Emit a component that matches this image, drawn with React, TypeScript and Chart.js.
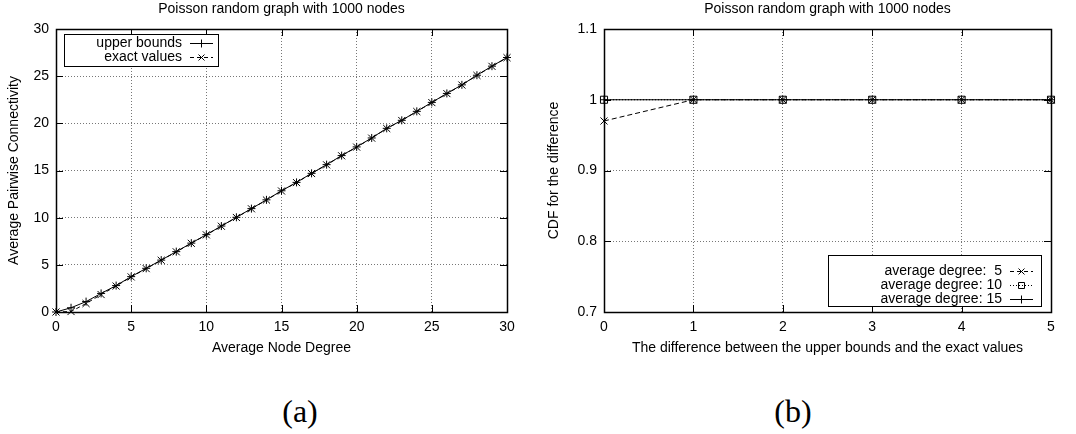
import React, { useEffect, useRef } from 'react';
import { Chart, registerables } from 'chart.js';

Chart.register(...registerables);

const FONT = "'Liberation Sans', Arial, Helvetica, sans-serif";
const SERIF = "'Liberation Serif', 'Times New Roman', serif";

// ---------- Panel (a) data ----------
const nodeDegrees = [0, 1, 2, 3, 4, 5, 6, 7, 8, 9, 10, 11, 12, 13, 14, 15, 16, 17, 18, 19, 20, 21, 22, 23, 24, 25, 26, 27, 28, 29, 30];
const upperBounds = [0, 0.45, 1.1, 1.97, 2.8, 3.75, 4.63, 5.5, 6.4, 7.3, 8.2, 9.11, 10.04, 10.96, 11.89, 12.85, 13.74, 14.7, 15.62, 16.58, 17.5, 18.45, 19.47, 20.32, 21.27, 22.22, 23.17, 24.08, 25.1, 26.06, 26.98];
const exactValues = [0, 0.05, 0.9, 1.85, 2.75, 3.72, 4.6, 5.48, 6.38, 7.28, 8.18, 9.09, 10.02, 10.94, 11.87, 12.83, 13.72, 14.68, 15.6, 16.56, 17.48, 18.43, 19.45, 20.3, 21.25, 22.2, 23.15, 24.06, 25.08, 26.04, 26.96];
const degreeTicks = [0, 5, 10, 15, 20, 25, 30];
const connectivityTicks = [0, 5, 10, 15, 20, 25, 30];

// ---------- Panel (b) data ----------
const differences = [0, 1, 2, 3, 4, 5];
const cdfDegree5 = [0.97, 1, 1, 1, 1, 1];
const cdfDegree10 = [1, 1, 1, 1, 1, 1];
const cdfDegree15 = [1, 1, 1, 1, 1, 1];
const differenceTicks = [0, 1, 2, 3, 4, 5];
const cdfTicks = [0.7, 0.8, 0.9, 1.0, 1.1];
const cdfTickLabels = ['0.7', '0.8', '0.9', '1', '1.1'];

const chartTitle = 'Poisson random graph with 1000 nodes';

function drawMarker(ctx: CanvasRenderingContext2D, style: string, x: number, y: number, r: number) {
  ctx.save();
  ctx.setLineDash([]);
  ctx.strokeStyle = '#000';
  ctx.lineWidth = 1;
  ctx.beginPath();
  if (style === 'cross') {
    ctx.moveTo(x - r, y); ctx.lineTo(x + r, y);
    ctx.moveTo(x, y - r); ctx.lineTo(x, y + r);
  } else if (style === 'crossRot') {
    ctx.moveTo(x - r, y - r); ctx.lineTo(x + r, y + r);
    ctx.moveTo(x - r, y + r); ctx.lineTo(x + r, y - r);
  } else if (style === 'rect') {
    ctx.rect(x - r, y - r, 2 * r, 2 * r);
  }
  ctx.stroke();
  ctx.restore();
}

const gnuplotPlugin = {
  id: 'gnuplot',
  beforeDatasetsDraw(chart: any, _args: any, opts: any) {
    const { ctx, chartArea } = chart;
    const { left, right, top, bottom } = chartArea;
    const xs = chart.scales.x;
    const ys = chart.scales.y;
    const tl = 7;
    ctx.save();
    ctx.strokeStyle = '#000';
    ctx.lineWidth = 1;
    ctx.setLineDash([]);
    ctx.beginPath();
    xs.ticks.forEach((t: any) => {
      const px = Math.round(xs.getPixelForValue(t.value)) + 0.5;
      ctx.moveTo(px, bottom); ctx.lineTo(px, bottom - tl);
      ctx.moveTo(px, top); ctx.lineTo(px, top + tl);
    });
    ys.ticks.forEach((t: any) => {
      const py = Math.round(ys.getPixelForValue(t.value)) + 0.5;
      ctx.moveTo(left, py); ctx.lineTo(left + tl, py);
      ctx.moveTo(right, py); ctx.lineTo(right - tl, py);
    });
    ctx.stroke();
    ctx.lineWidth = 1.5;
    ctx.strokeRect(Math.round(left) + 0.5, Math.round(top) + 0.5, Math.round(right - left), Math.round(bottom - top));
    ctx.restore();
  },
  afterDraw(chart: any, _args: any, opts: any) {
    const { ctx, chartArea } = chart;
    ctx.save();
    ctx.fillStyle = '#000';
    ctx.font = `14px ${FONT}`;
    ctx.textAlign = 'center';
    ctx.textBaseline = 'middle';
    ctx.fillText(opts.title, (chartArea.left + chartArea.right) / 2, opts.titleY);

    const lg = opts.legend;
    ctx.fillStyle = '#fff';
    ctx.fillRect(lg.box[0], lg.box[1], lg.box[2] - lg.box[0], lg.box[3] - lg.box[1]);
    ctx.strokeStyle = '#000';
    ctx.lineWidth = 1;
    ctx.setLineDash([]);
    ctx.strokeRect(lg.box[0] + 0.5, lg.box[1] + 0.5, lg.box[2] - lg.box[0], lg.box[3] - lg.box[1]);
    lg.entries.forEach((e: any, i: number) => {
      const y = lg.rows[i];
      ctx.fillStyle = '#000';
      ctx.textAlign = 'right';
      ctx.textBaseline = 'middle';
      ctx.font = `14px ${FONT}`;
      ctx.fillText(e.label, lg.textRight, y);
      ctx.save();
      ctx.beginPath();
      ctx.setLineDash(e.dash);
      ctx.strokeStyle = '#000';
      ctx.lineWidth = 1;
      ctx.moveTo(lg.sample[0], Math.round(y) + 0.5);
      ctx.lineTo(lg.sample[1], Math.round(y) + 0.5);
      ctx.stroke();
      ctx.restore();
      drawMarker(ctx, e.marker, (lg.sample[0] + lg.sample[1]) / 2, Math.round(y) + 0.5, e.r);
    });
    ctx.restore();
  },
};

const tickFont = { size: 14, family: FONT };

function xAxis(min: number, max: number, ticks: number[], title: string) {
  return {
    type: 'linear',
    min,
    max,
    afterBuildTicks: (s: any) => { s.ticks = ticks.map((v) => ({ value: v })); },
    afterFit: (s: any) => { s.height = 49; },
    grid: { color: '#777', lineWidth: 1, drawTicks: false },
    border: { display: false, dash: [1, 2] },
    ticks: { padding: 7, color: '#000', font: tickFont, maxRotation: 0, autoSkip: false },
    title: { display: true, text: title, color: '#000', font: tickFont, padding: { top: 4, bottom: 4 } },
  };
}

function yAxis(min: number, max: number, ticks: number[], labels: string[], title: string, width: number) {
  return {
    type: 'linear',
    min,
    max,
    afterBuildTicks: (s: any) => { s.ticks = ticks.map((v) => ({ value: v })); },
    afterFit: (s: any) => { s.width = width; },
    grid: { color: '#777', lineWidth: 1, drawTicks: false },
    border: { display: false, dash: [1, 2] },
    ticks: {
      padding: 7, color: '#000', font: tickFont, autoSkip: false,
      callback: (_v: any, i: number) => labels[i],
    },
    title: { display: true, text: title, color: '#000', font: tickFont, padding: { top: 6, bottom: 0 } },
  };
}

function series(label: string, xs: number[], ys: number[], marker: string, r: number, dash: number[]) {
  return {
    label,
    data: xs.map((x, i) => ({ x, y: ys[i] })),
    borderColor: '#000',
    borderWidth: 1,
    borderDash: dash,
    pointStyle: marker,
    pointRadius: r,
    pointBorderColor: '#000',
    pointBorderWidth: 1,
    pointBackgroundColor: 'rgba(0,0,0,0)',
    fill: false,
    tension: 0,
    clip: false,
  };
}

export default function App() {
  const refA = useRef<HTMLCanvasElement>(null);
  const refB = useRef<HTMLCanvasElement>(null);

  useEffect(() => {
    const common = {
      animation: false,
      responsive: false,
      events: [],
    };
    const chartA = new Chart(refA.current as HTMLCanvasElement, {
      type: 'line',
      data: {
        datasets: [
          series('upper bounds', nodeDegrees, upperBounds, 'cross', 4, []),
          series('exact values', nodeDegrees, exactValues, 'crossRot', 5, [4, 3]),
        ],
      },
      options: {
        ...common,
        layout: { padding: { top: 29, right: 33, left: 0, bottom: 0 } },
        scales: {
          x: xAxis(0, 30, degreeTicks, 'Average Node Degree'),
          y: yAxis(0, 30, connectivityTicks, connectivityTicks.map(String), 'Average Pairwise Connectivity', 56),
        },
        plugins: {
          legend: { display: false },
          tooltip: { enabled: false },
          gnuplot: {
            title: chartTitle,
            titleY: 9,
            legend: {
              box: [64, 34, 218, 66],
              rows: [43, 57],
              textRight: 182,
              sample: [190, 213],
              entries: [
                { label: 'upper bounds', dash: [], marker: 'cross', r: 4 },
                { label: 'exact values', dash: [4, 3], marker: 'crossRot', r: 3 },
              ],
            },
          },
        },
      } as any,
      plugins: [gnuplotPlugin],
    } as any);

    const chartB = new Chart(refB.current as HTMLCanvasElement, {
      type: 'line',
      data: {
        datasets: [
          series('average degree:  5', differences, cdfDegree5, 'crossRot', 5, [5, 3]),
          series('average degree: 10', differences, cdfDegree10, 'rect', 5, [1, 2]),
          series('average degree: 15', differences, cdfDegree15, 'cross', 4, []),
        ],
      },
      options: {
        ...common,
        layout: { padding: { top: 29, right: 25, left: 0, bottom: 0 } },
        scales: {
          x: xAxis(0, 5, differenceTicks, 'The difference between the upper bounds and the exact values'),
          y: yAxis(0.7, 1.1, cdfTicks, cdfTickLabels, 'CDF for the difference', 64),
        },
        plugins: {
          legend: { display: false },
          tooltip: { enabled: false },
          gnuplot: {
            title: chartTitle,
            titleY: 9,
            legend: {
              box: [288, 255, 501, 306],
              rows: [271, 285, 299],
              textRight: 462,
              sample: [470, 493],
              entries: [
                { label: 'average degree:  5', dash: [4, 3], marker: 'crossRot', r: 3 },
                { label: 'average degree: 10', dash: [1, 2], marker: 'rect', r: 3 },
                { label: 'average degree: 15', dash: [], marker: 'cross', r: 4 },
              ],
            },
          },
        },
      } as any,
      plugins: [gnuplotPlugin],
    } as any);

    return () => {
      chartA.destroy();
      chartB.destroy();
    };
  }, []);

  const labelStyle: React.CSSProperties = {
    position: 'absolute',
    top: 395,
    width: 100,
    textAlign: 'center',
    fontFamily: SERIF,
    fontSize: 32,
    lineHeight: '32px',
    color: '#000',
  };

  return (
    <div style={{ position: 'absolute', left: 0, top: 0, width: 1076, height: 434, background: '#fff', overflow: 'hidden' }}>
      <canvas ref={refA} width={540} height={361} style={{ position: 'absolute', left: 0, top: 0, width: 540, height: 361 }} />
      <canvas ref={refB} width={536} height={361} style={{ position: 'absolute', left: 540, top: 0, width: 536, height: 361 }} />
      <div style={{ ...labelStyle, left: 250 }}>(a)</div>
      <div style={{ ...labelStyle, left: 743 }}>(b)</div>
    </div>
  );
}
